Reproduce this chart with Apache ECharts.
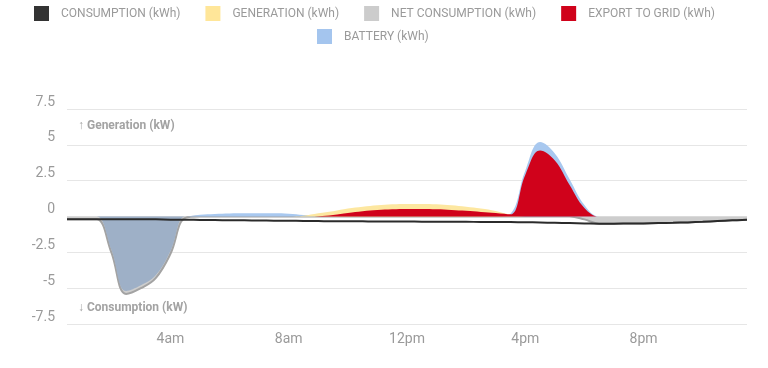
<!DOCTYPE html>
<html>
<head>
<meta charset="utf-8">
<script src="https://cdn.jsdelivr.net/npm/echarts@6/dist/echarts.min.js"></script>
<style>
html,body{margin:0;padding:0;background:#fff;}
#chart{width:768px;height:368px;}
</style>
</head>
<body>
<div id="chart"></div>
<script>
// Half-hourly categories 00:30 .. 23:30
const times = ['00:30','01:00','01:30','02:00','02:30','03:00','03:30','04:00','04:30','05:00','05:30','06:00','06:30','07:00','07:30','08:00','08:30','09:00','09:30','10:00','10:30','11:00','11:30','12:00','12:30','13:00','13:30','14:00','14:30','15:00','15:30','16:00','16:30','17:00','17:30','18:00','18:30','19:00','19:30','20:00','20:30','21:00','21:30','22:00','22:30','23:00','23:30'];
const tickTimes = ['04:00','08:00','12:00','16:00','20:00'];
const tickLabels = ['4am','8am','12pm','4pm','8pm'];

const consumption = [-0.2,-0.2,-0.2,-0.2,-0.2,-0.2,-0.2,-0.22,-0.22,-0.24,-0.25,-0.26,-0.27,-0.28,-0.29,-0.3,-0.31,-0.32,-0.33,-0.33,-0.34,-0.35,-0.35,-0.35,-0.36,-0.36,-0.37,-0.37,-0.38,-0.38,-0.39,-0.4,-0.42,-0.44,-0.46,-0.48,-0.5,-0.5,-0.49,-0.48,-0.46,-0.44,-0.41,-0.37,-0.32,-0.27,-0.22];
const generation = [0,0,0,0,0,0,0,0,0,0,0,0,0,0,0,0,0.05,0.22,0.37,0.55,0.68,0.78,0.85,0.88,0.88,0.85,0.78,0.68,0.55,0.38,0.12,0,0,0,0,0,0,0,0,0,0,0,0,0,0,0,0];
const netConsumption = [-0.2,-0.2,-0.2,-2.5,-5.4,-5.0,-4.3,-2.6,-0.1,0,0,0,0,0,0,0,0,0,0,0,0,0,0,0,0,0,0,0,0,0,0,0,0,0,0,-0.2,-0.5,-0.5,-0.49,-0.48,-0.46,-0.44,-0.41,-0.37,-0.32,-0.27,-0.22];
const exportToGrid = [0,0,0,0,0,0,0,0,0,0,0,0,0,0,0,0,0,0.02,0.1,0.24,0.37,0.45,0.5,0.52,0.52,0.5,0.46,0.4,0.32,0.24,0.15,2.9,4.6,3.9,2.2,0.6,0,0,0,0,0,0,0,0,0,0,0];
const battery = [0,0,0,-2.3,-5.2,-4.8,-4.1,-2.4,0,0.12,0.18,0.21,0.22,0.23,0.22,0.2,0.1,0,0,0,0,0,0,0,0,0,0,0,0,0,0.2,3.2,5.2,4.4,2.6,0.8,0,0,0,0,0,0,0,0,0,0,0];

const names = ['CONSUMPTION (kWh)','GENERATION (kWh)','NET CONSUMPTION (kWh)','EXPORT TO GRID (kWh)','BATTERY (kWh)'];

const chart = echarts.init(document.getElementById('chart'), null, {renderer:'canvas'});
const legendText = {color:'#9a9a9a', fontSize:12, fontFamily:'Roboto', padding:[0,0,0,7]};
const sm = 0.4;
chart.setOption({
  animation:false,
  textStyle:{fontFamily:'Roboto'},
  legend:[
    {data:names.slice(0,4), left:29, top:1, icon:'rect', itemWidth:15, itemHeight:15, itemGap:25, textStyle:legendText, selectedMode:false},
    {data:[names[4]], left:312, top:24, icon:'rect', itemWidth:15, itemHeight:15, itemGap:25, textStyle:legendText, selectedMode:false}
  ],
  grid:{left:67, right:21, top:109, bottom:44},
  xAxis:{
    type:'category', data:times, boundaryGap:false,
    axisLine:{show:false}, axisTick:{show:false}, splitLine:{show:false},
    axisLabel:{
      interval:(i,v)=>tickTimes.indexOf(v)>=0,
      formatter:(v)=>{const k=tickTimes.indexOf(v);return k>=0?tickLabels[k]:'';},
      color:'#9a9a9a', fontSize:14, margin:8
    }
  },
  yAxis:{
    type:'value', min:-7.5, max:7.5, interval:2.5,
    axisLine:{show:false}, axisTick:{show:false},
    splitLine:{lineStyle:{color:'#e6e6e6', width:1}},
    axisLabel:{color:'#9a9a9a', fontSize:14, margin:12, verticalAlign:'bottom'}
  },
  graphic:[
    {type:'text', left:78, top:120, style:{text:'↑ Generation (kW)', font:'bold 12px Roboto', fill:'#a3a3a3'}},
    {type:'text', left:78, top:302, style:{text:'↓ Consumption (kW)', font:'bold 12px Roboto', fill:'#a3a3a3'}}
  ],
  series:[
    {name:names[0], type:'line', data:consumption, z:6, smooth:sm, symbol:'none',
     itemStyle:{color:'#333333'}, lineStyle:{color:'#2b2b2b', width:2}},
    {name:names[1], type:'line', data:generation, z:4, smooth:sm, symbol:'none',
     itemStyle:{color:'#ffe699'}, lineStyle:{width:0}, areaStyle:{color:'#fde7a0', opacity:1}},
    {name:names[2], type:'line', data:netConsumption, z:2, smooth:sm, symbol:'none',
     itemStyle:{color:'#cccccc'}, lineStyle:{color:'#a3a3a3', width:2}, areaStyle:{color:'#cdcdcd', opacity:1}},
    {name:names[3], type:'line', data:exportToGrid, z:5, smooth:sm, symbol:'none',
     itemStyle:{color:'#d0021b'}, lineStyle:{width:0}, areaStyle:{color:'#d0021b', opacity:1}},
    {name:names[4], type:'line', data:battery.map(v=>Math.max(v,0)), z:3, smooth:sm, symbol:'none',
     itemStyle:{color:'#a4c5ee'}, lineStyle:{width:0}, areaStyle:{color:'#a8c8ef', opacity:1}},
    {name:names[4], type:'line', data:battery.map(v=>Math.min(v,0)), z:3, smooth:sm, symbol:'none',
     itemStyle:{color:'#a4c5ee'}, lineStyle:{width:0}, areaStyle:{color:'#9eb0c7', opacity:1}}
  ]
});
</script>
</body>
</html>
